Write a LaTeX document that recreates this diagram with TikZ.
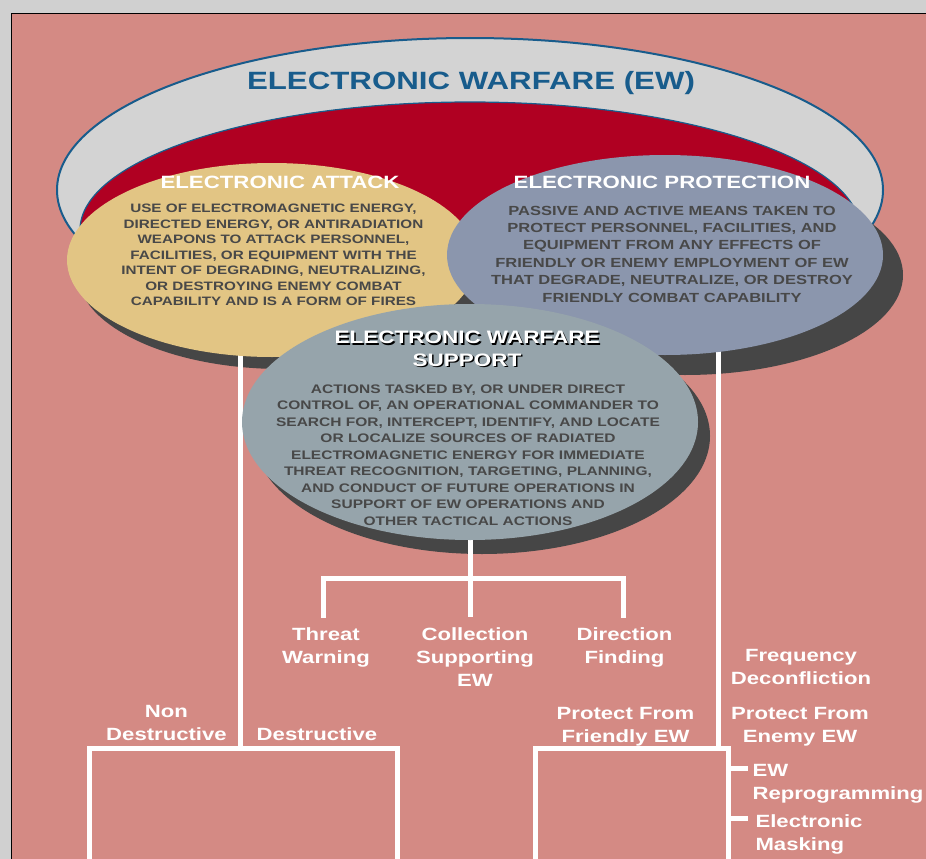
\documentclass[tikz,border=0pt]{standalone}
\usepackage{fontspec}
\setmainfont{Liberation Sans}[FakeStretch=1.25]
\usetikzlibrary{shapes.geometric}
\definecolor{framegray}{RGB}{208,208,208}
\definecolor{panelpink}{RGB}{212,138,132}
\definecolor{ewgray}{RGB}{211,211,211}
\definecolor{ewblue}{RGB}{24,92,140}
\definecolor{ewred}{RGB}{176,0,34}
\definecolor{eatan}{RGB}{226,197,132}
\definecolor{epslate}{RGB}{139,150,173}
\definecolor{esgray}{RGB}{150,164,171}
\definecolor{ovalshade}{RGB}{70,70,70}
\definecolor{bodygray}{RGB}{72,72,72}

\begin{document}
\begin{tikzpicture}[x=1pt,y=-1pt,
 oval/.style={ellipse,inner sep=0pt},
 head/.style={text=white,anchor=base,font=\bfseries\fontsize{17.8}{21}\selectfont},
 blurb/.style={text=bodygray,align=center,anchor=base,font=\bfseries\fontsize{12.2}{15.5}\selectfont},
 leaf/.style={text=white,align=center,anchor=base,font=\bfseries\fontsize{17.7}{23}\selectfont},
 wire/.style={white,line width=5pt}]
 \useasboundingbox (0,0) rectangle (926,859);
 \fill[framegray] (0,0) rectangle (926,859);
 \filldraw[fill=panelpink,draw=black,line width=1.6pt] (11.5,13.5) rectangle (940,875);
 % big EW oval
 \node[oval,fill=ewgray,draw=ewblue,line width=2pt,minimum width=826pt,minimum height=304pt] (ew) at (470,190) {};
 \node[oval,fill=ewred,draw=ewblue,line width=1.2pt,minimum width=780pt,minimum height=256pt] (ewin) at (470,230) {};
 \node[text=ewblue,anchor=base,font=\bfseries\fontsize{25}{30}\selectfont] (ewtitle) at (471,89.5) {ELECTRONIC WARFARE (EW)};
 % shadows
 \node[oval,fill=ovalshade,minimum width=410pt,minimum height=194pt] (eaShade) at (282,272) {};
 \node[oval,fill=ovalshade,minimum width=436pt,minimum height=200pt] (epShade) at (685,275) {};
 \node[oval,fill=ovalshade,minimum width=456pt,minimum height=236pt] (esShade) at (482,436) {};
 % tree points
 \coordinate (eaFoot) at (240,350);  \coordinate (eaKnee) at (240,748);
 \coordinate (ndTop) at (89,748);    \coordinate (ndEnd) at (89,875);
 \coordinate (dTop) at (397,748);    \coordinate (dEnd) at (397,875);
 \coordinate (esFoot) at (470,530);  \coordinate (esKnee) at (470,578);
 \coordinate (twTop) at (323,578);   \coordinate (twEnd) at (323,618);
 \coordinate (csEnd) at (470,617);
 \coordinate (dfTop) at (623,578);   \coordinate (dfEnd) at (623,618);
 \coordinate (epFoot) at (718,350);  \coordinate (epKnee) at (718,748);
 \coordinate (pfTop) at (535,748);   \coordinate (pfEnd) at (535,875);
 \coordinate (peTop) at (728,748);   \coordinate (peEnd) at (728,875);
 \coordinate (rpTick) at (748,768);  \coordinate (mkTick) at (748,818);
 \draw[wire] (eaFoot) -- (eaKnee);
 \draw[wire] (ndEnd) -- (ndTop) -- (dTop) -- (dEnd);
 \draw[wire] (esFoot) -- (csEnd);
 \draw[wire] (twEnd) -- (twTop) -- (dfTop) -- (dfEnd);
 \draw[wire] (epFoot) -- (epKnee);
 \draw[wire] (pfEnd) -- (pfTop) -- (peTop) -- (peEnd);
 \draw[wire] (peTop|-rpTick) -- (rpTick);
 \draw[wire] (peTop|-mkTick) -- (mkTick);
 % the three ovals
 \node[oval,fill=eatan,minimum width=410pt,minimum height=194pt] (ea) at (272,260) {};
 \node[oval,fill=epslate,minimum width=436pt,minimum height=200pt] (ep) at (665,255) {};
 \node[oval,fill=esgray,minimum width=456pt,minimum height=236pt] (es) at (470,422) {};
 % oval texts (base = last line)
 \node[head] (eaHead) at (280,188) {ELECTRONIC ATTACK};
 \node[blurb] (eaText) at (273.5,305.5) {USE OF ELECTROMAGNETIC ENERGY,\\DIRECTED ENERGY, OR ANTIRADIATION\\WEAPONS TO ATTACK PERSONNEL,\\FACILITIES, OR EQUIPMENT WITH THE\\INTENT OF DEGRADING, NEUTRALIZING,\\OR DESTROYING ENEMY COMBAT\\CAPABILITY AND IS A FORM OF FIRES};
 \node[head] (epHead) at (662,188) {ELECTRONIC PROTECTION};
 \node[blurb,font=\bfseries\fontsize{13.2}{17.4}\selectfont] (epText) at (672,302) {PASSIVE AND ACTIVE MEANS TAKEN TO\\PROTECT PERSONNEL, FACILITIES, AND\\EQUIPMENT FROM ANY EFFECTS OF\\FRIENDLY OR ENEMY EMPLOYMENT OF EW\\THAT DEGRADE, NEUTRALIZE, OR DESTROY\\FRIENDLY COMBAT CAPABILITY};
 \node[head,align=center,text=black,font=\bfseries\fontsize{18}{22.5}\selectfont] at (468.5,367.5) {ELECTRONIC WARFARE\\SUPPORT};
 \node[head,align=center,font=\bfseries\fontsize{18}{22.5}\selectfont] (esHead) at (467,366) {ELECTRONIC WARFARE\\SUPPORT};
 \node[blurb,font=\bfseries\fontsize{12.4}{16.5}\selectfont] (esText) at (468,525) {ACTIONS TASKED BY, OR UNDER DIRECT\\CONTROL OF, AN OPERATIONAL COMMANDER TO\\SEARCH FOR, INTERCEPT, IDENTIFY, AND LOCATE\\OR LOCALIZE SOURCES OF RADIATED\\ELECTROMAGNETIC ENERGY FOR IMMEDIATE\\THREAT RECOGNITION, TARGETING, PLANNING,\\AND CONDUCT OF FUTURE OPERATIONS IN\\SUPPORT OF EW OPERATIONS AND\\OTHER TACTICAL ACTIONS};
 % branch labels
 \node[leaf] (threat) at (326,663) {Threat\\Warning};
 \node[leaf] (collect) at (475,686) {Collection\\Supporting\\EW};
 \node[leaf] (dirfind) at (624.5,663) {Direction\\Finding};
 \node[leaf] (freq) at (801,684) {Frequency\\Deconfliction};
 \node[leaf] (nondes) at (166.5,740) {Non\\Destructive};
 \node[leaf] (destr) at (317,740) {Destructive};
 \node[leaf] (pfriend) at (625.5,742) {Protect From\\Friendly EW};
 \node[leaf] (penemy) at (800,742) {Protect From\\Enemy EW};
 \node[leaf,align=left,anchor=base west] (reprog) at (749,799) {EW\\Reprogramming};
 \node[leaf,align=left,anchor=base west] (mask) at (752,850) {Electronic\\Masking};
\end{tikzpicture}
\end{document}
